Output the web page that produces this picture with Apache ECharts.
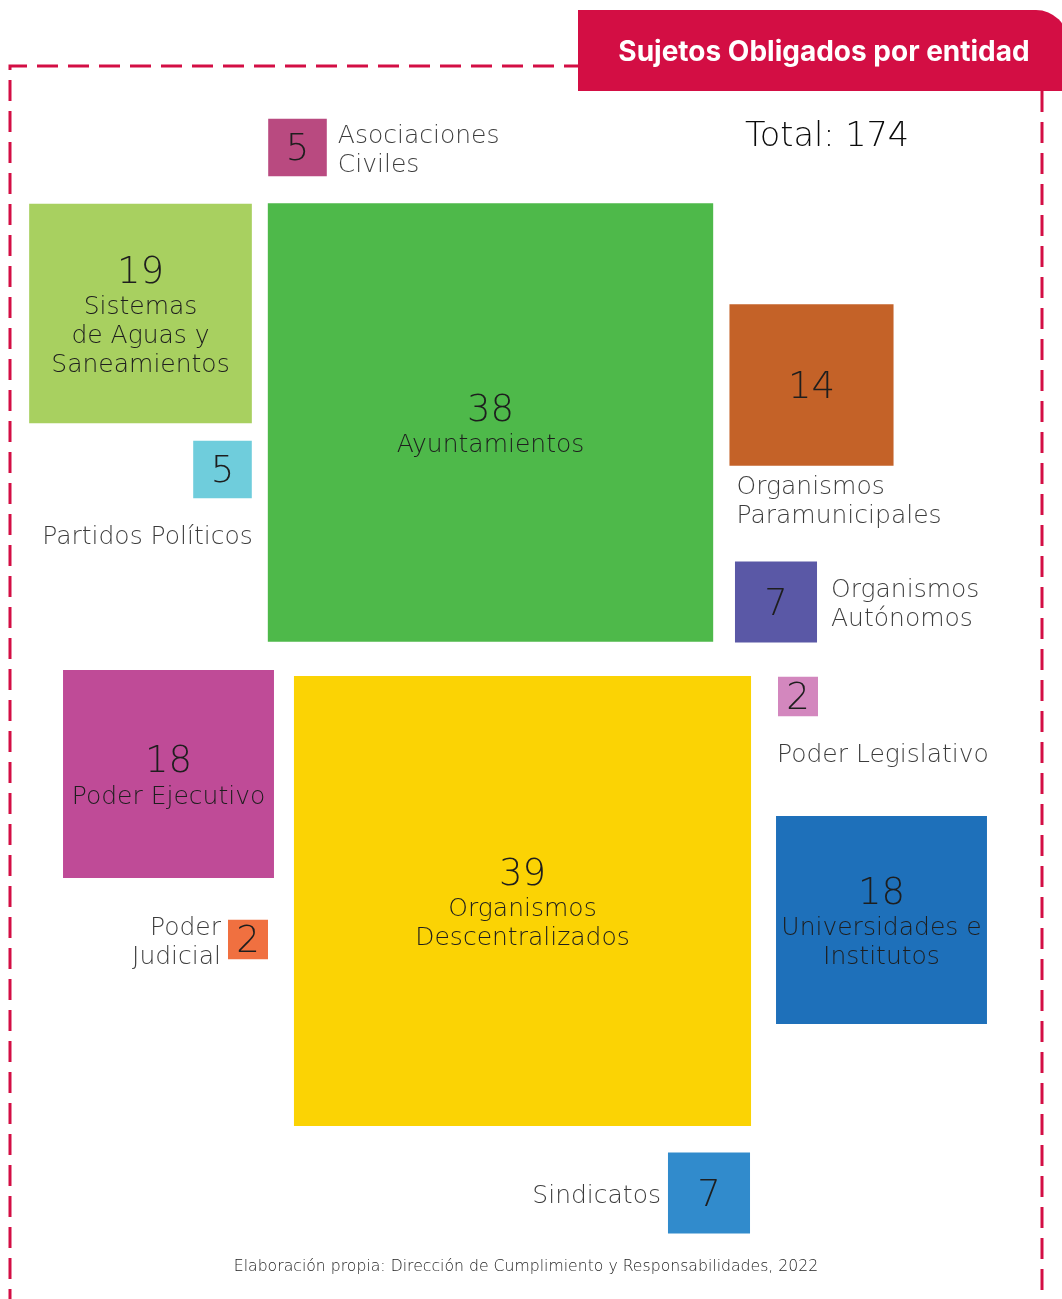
<!DOCTYPE html>
<html>
<head>
<meta charset="utf-8">
<script src="https://cdn.jsdelivr.net/npm/echarts@6/dist/echarts.min.js"></script>
<style>
  html, body { margin: 0; padding: 0; background: #fff; }
  #chart { width: 1062px; height: 1299px; }
</style>
</head>
<body>
<div id="chart"></div>
<script>
// datos
const categorias = ['Asociaciones\nCiviles', 'Sistemas\nde Aguas y\nSaneamientos', 'Ayuntamientos', 'Partidos Políticos',
  'Organismos\nParamunicipales', 'Organismos\nAutónomos', 'Poder Legislativo', 'Poder Ejecutivo',
  'Organismos\nDescentralizados', 'Universidades e\nInstitutos', 'Poder\nJudicial', 'Sindicatos'];
const valores = [5, 19, 38, 5, 14, 7, 2, 18, 39, 18, 2, 7];
const titulo = 'Sujetos Obligados por entidad';
const fuente = 'Elaboración propia: Dirección de Cumplimiento y Responsabilidades, 2022';

// diseño: centro de cada cuadro (en px de la lámina)
const centros = [[297.5, 147.5], [140.5, 313.5], [490.5, 422.5], [222.5, 469.5], [811.5, 385], [776, 602],
  [798, 696.5], [168.5, 774], [522.5, 901], [881.5, 920], [248, 939.5], [709, 1193]];
const colores = ['#B94A80', '#A8D060', '#4EB94A', '#6FCDDC', '#C46228', '#5A58A6',
  '#D387BE', '#BF4B97', '#FBD304', '#1E70BA', '#F07040', '#318BCC'];
// dónde va el nombre: null = dentro del cuadro
const posNombre = [
  { position: 'right', distance: 11, align: 'left', offset: [0, 3] },
  null,
  null,
  { position: ['100%', '100%'], offset: [1, 25], align: 'right', verticalAlign: 'top' },
  { position: ['0%', '100%'], offset: [7, 7], align: 'left', verticalAlign: 'top' },
  { position: 'right', distance: 14, align: 'left', offset: [0, 3] },
  { position: ['0%', '100%'], offset: [-1, 25], align: 'left', verticalAlign: 'top' },
  null,
  null,
  null,
  { position: 'left', distance: 7, align: 'right', offset: [0, 3] },
  { position: 'left', distance: 7, align: 'right', offset: [0, 3] }
];

const rojo = '#D30E44';
const fontFam = 'DejaVu Sans';
const fontTit = 'Inter';
const lado = v => Math.max(40, v * 11.72);
const total = valores.reduce((a, b) => a + b, 0);

const chart = echarts.init(document.getElementById('chart'));

const datosCuadros = valores.map((v, i) => ({
  value: [centros[i][0], centros[i][1], v],
  itemStyle: { color: colores[i], opacity: 1 },
  label: {
    formatter: posNombre[i] ? '{n|' + v + '}' : '{n|' + v + '}\n' + categorias[i].split('\n').map(s => '{t|' + s + '}').join('\n')
  }
}));

const datosNombres = [];
valores.forEach((v, i) => {
  if (!posNombre[i]) return;
  datosNombres.push({
    value: [centros[i][0], centros[i][1], v],
    label: Object.assign({
      show: true,
      formatter: categorias[i].split('\n').map(s => '{t|' + s + '}').join('\n')
    }, posNombre[i])
  });
});

const option = {
  backgroundColor: '#fff',
  animation: false,
  grid: { left: 0, right: 0, top: 0, bottom: 0 },
  xAxis: { type: 'value', min: 0, max: 1062, show: false },
  yAxis: { type: 'value', min: 0, max: 1299, inverse: true, show: false },
  series: [
    {
      type: 'scatter',
      symbol: 'rect',
      symbolSize: d => [lado(d[2]), lado(d[2]) * 0.985],
      silent: true,
      itemStyle: { opacity: 1 },
      label: {
        show: true,
        position: 'inside',
        align: 'center',
        offset: [0, 3],
        rich: {
          n: { fontFamily: fontFam, fontWeight: 200, fontSize: 37, lineHeight: 40, color: '#1e1e1e', align: 'center' },
          t: { fontFamily: fontFam, fontWeight: 200, fontSize: 25, lineHeight: 29, color: '#1e1e1e', align: 'center' }
        }
      },
      data: datosCuadros
    },
    {
      type: 'scatter',
      symbol: 'rect',
      symbolSize: d => [lado(d[2]), lado(d[2]) * 0.985],
      silent: true,
      itemStyle: { color: 'rgba(0,0,0,0)' },
      label: {
        rich: {
          t: { fontFamily: fontFam, fontWeight: 200, fontSize: 25, lineHeight: 29, color: '#0a0a0a' }
        }
      },
      data: datosNombres
    }
  ],
  graphic: [
    // marco punteado
    {
      type: 'polyline', silent: true,
      shape: { points: [[10, 1310], [10, 66], [580, 66]] },
      style: { stroke: rojo, lineWidth: 3, lineDash: [21, 10], fill: null }
    },
    {
      type: 'polyline', silent: true,
      shape: { points: [[1042, 91], [1042, 1310]] },
      style: { stroke: rojo, lineWidth: 3, lineDash: [21, 10], fill: null }
    },
    // pestaña del título
    {
      type: 'rect', silent: true,
      shape: { x: 578, y: 10, width: 490, height: 81, r: [0, 32, 0, 0] },
      style: { fill: rojo }
    },
    {
      type: 'text', silent: true,
      x: 824, y: 53,
      style: { text: titulo, fill: '#fff', font: 'bold 28px ' + fontTit, textAlign: 'center', textVerticalAlign: 'middle' }
    },
    {
      type: 'text', silent: true,
      x: 745, y: 137,
      style: { text: 'Total: ' + total, fill: '#0a0a0a', font: '200 33.5px ' + fontFam, textAlign: 'left', textVerticalAlign: 'middle' }
    },
    {
      type: 'text', silent: true,
      x: 526, y: 1267,
      style: { text: fuente, fill: '#222', font: '200 15.7px ' + fontFam, textAlign: 'center', textVerticalAlign: 'middle' }
    }
  ]
};

chart.setOption(option);
</script>
</body>
</html>
